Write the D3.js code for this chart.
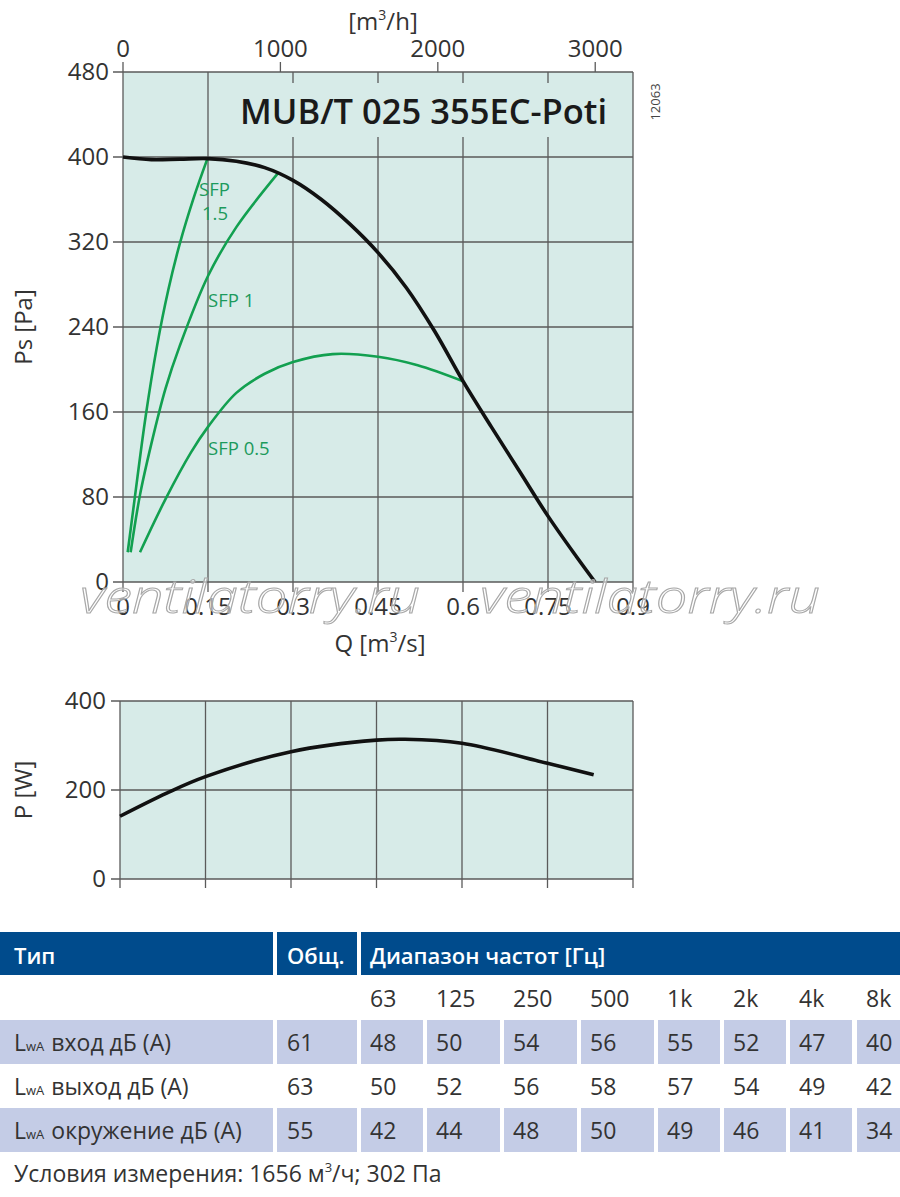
<!DOCTYPE html>
<html>
<head>
<meta charset="utf-8">
<script src="https://cdn.jsdelivr.net/npm/d3@7"></script>
<style>
body { margin: 0; background: #fff; }
svg { display: block; }
</style>
</head>
<body>
<script>
// chart data
var flowTicks = [0, 0.15, 0.3, 0.45, 0.6, 0.75, 0.9];
var flowTicksH = [0, 1000, 2000, 3000];
var pressureTicks = [0, 80, 160, 240, 320, 400, 480];
var powerTicks = [0, 200, 400];

var fanQ  = [0, 0.05, 0.1, 0.15, 0.2, 0.25, 0.3, 0.35, 0.4, 0.45, 0.5, 0.55, 0.6, 0.65, 0.7, 0.75, 0.8, 0.833];
var fanPa = [400, 397.5, 398, 398.5, 396, 390, 378, 360, 337, 310, 277, 236, 189, 146, 104, 62, 24, 0];

var sfp15Q  = [0.0083, 0.02, 0.04, 0.06, 0.08, 0.1, 0.125, 0.149];
var sfp15Pa = [28, 76, 156, 222, 275, 318, 362, 398.5];
var sfp1Q   = [0.0135, 0.03, 0.05, 0.075, 0.1, 0.15, 0.2, 0.274];
var sfp1Pa  = [28, 82, 130, 182, 222, 288, 334, 385];
var sfp05Q  = [0.03, 0.075, 0.12, 0.15, 0.2, 0.25, 0.3, 0.37, 0.45, 0.52, 0.6];
var sfp05Pa = [28, 78, 122, 146, 178, 196, 207, 214.5, 212, 204, 189];

var powerQ = [0, 0.082, 0.15, 0.3, 0.45, 0.5, 0.6, 0.75, 0.831];
var powerW = [141, 193, 230, 286, 312, 314, 305, 260, 234];

var bandLabels = ["63", "125", "250", "500", "1k", "2k", "4k", "8k"];
var rowNames = ["вход дБ (А)", "выход дБ (А)", "окружение дБ (А)"];
var rowTotals = [61, 63, 55];
var rowBands = [
	[48, 50, 54, 56, 55, 52, 47, 40],
	[50, 52, 56, 58, 57, 54, 49, 42],
	[42, 44, 48, 50, 49, 46, 41, 34]
];

var width = 900, height = 1197;
var font = "'Open Sans', 'Noto Sans', sans-serif";
var textColor = "#333";
var plotFill = "#d7ebe8";
var gridColor = "#5a5a5a";
var green = "#12a050";
var axisSize = 24;

var svg = d3.select("body").append("svg")
	.attr("width", width)
	.attr("height", height);

function zipped(xs, ys){
	return xs.map(function(x, i){ return [x, ys[i]]; });
}

// ---------- top chart ----------
var x = d3.scaleLinear().domain([0, 0.9]).range([123, 633]);
var y = d3.scaleLinear().domain([0, 480]).range([582, 72]);
// m3/h axis on top, same pixels
var xh = d3.scaleLinear().domain([0, 0.9 * 3600]).range([123, 633]);

svg.append("rect")
	.attr("x", x(0)).attr("y", y(480))
	.attr("width", x(0.9) - x(0)).attr("height", y(0) - y(480))
	.attr("fill", plotFill);

svg.append("g").selectAll("line")
	.data(flowTicks)
	.enter().append("line")
	.attr("x1", function(d){ return x(d); })
	.attr("x2", function(d){ return x(d); })
	.attr("y1", y(480)).attr("y2", y(0) + 10)
	.attr("stroke", gridColor).attr("stroke-width", 1.3);

svg.append("g").selectAll("line")
	.data(pressureTicks)
	.enter().append("line")
	.attr("x1", x(0) - 10).attr("x2", x(0.9))
	.attr("y1", function(d){ return y(d); })
	.attr("y2", function(d){ return y(d); })
	.attr("stroke", gridColor).attr("stroke-width", 1.3);

// title box hides the grid behind the name
svg.append("rect")
	.attr("x", 232).attr("y", 83)
	.attr("width", 388).attr("height", 54)
	.attr("fill", plotFill);

svg.append("text")
	.attr("x", 240).attr("y", 124)
	.attr("font-family", font)
	.attr("font-weight", 600)
	.attr("font-size", 34.5)
	.attr("fill", "#1a1a1a")
	.text("MUB/T 025 355EC-Poti");

svg.append("text")
	.attr("transform", "translate(660,102) rotate(-90)")
	.attr("text-anchor", "middle")
	.attr("font-family", font)
	.attr("font-size", 13)
	.attr("fill", "#444")
	.text("12063");

// top m3/h ticks
svg.append("g").selectAll("line")
	.data(flowTicksH)
	.enter().append("line")
	.attr("x1", function(d){ return xh(d); })
	.attr("x2", function(d){ return xh(d); })
	.attr("y1", y(480) - 10).attr("y2", y(480))
	.attr("stroke", gridColor).attr("stroke-width", 1.3);

svg.append("g").selectAll("text")
	.data(flowTicksH)
	.enter().append("text")
	.attr("x", function(d){ return xh(d); })
	.attr("y", 57)
	.attr("text-anchor", "middle")
	.attr("font-family", font)
	.attr("font-size", axisSize)
	.attr("fill", textColor)
	.text(function(d){ return d; });

svg.append("text")
	.attr("x", 383).attr("y", 30)
	.attr("text-anchor", "middle")
	.attr("font-family", font)
	.attr("font-size", axisSize)
	.attr("fill", textColor)
	.html("[m<tspan dy='-10' font-size='14'>3</tspan><tspan dy='10'>/h]</tspan>");

// left pressure labels
svg.append("g").selectAll("text")
	.data(pressureTicks)
	.enter().append("text")
	.attr("x", 109)
	.attr("y", function(d){ return y(d) + 8; })
	.attr("text-anchor", "end")
	.attr("font-family", font)
	.attr("font-size", axisSize)
	.attr("fill", textColor)
	.text(function(d){ return d; });

svg.append("text")
	.attr("transform", "translate(32," + y(240) + ") rotate(-90)")
	.attr("text-anchor", "middle")
	.attr("font-family", font)
	.attr("font-size", axisSize)
	.attr("fill", textColor)
	.text("Ps [Pa]");

// bottom flow labels
svg.append("g").selectAll("text")
	.data(flowTicks)
	.enter().append("text")
	.attr("x", function(d){ return x(d); })
	.attr("y", 615)
	.attr("text-anchor", "middle")
	.attr("font-family", font)
	.attr("font-size", axisSize)
	.attr("fill", textColor)
	.text(function(d){ return d; });

svg.append("text")
	.attr("x", 380).attr("y", 652)
	.attr("text-anchor", "middle")
	.attr("font-family", font)
	.attr("font-size", axisSize)
	.attr("fill", textColor)
	.html("Q [m<tspan dy='-10' font-size='14'>3</tspan><tspan dy='10'>/s]</tspan>");

// curves
var line = d3.line()
	.x(function(d){ return x(d[0]); })
	.y(function(d){ return y(d[1]); })
	.curve(d3.curveCatmullRom.alpha(0.5));

[[sfp15Q, sfp15Pa], [sfp1Q, sfp1Pa], [sfp05Q, sfp05Pa]].forEach(function(s){
	svg.append("path")
		.attr("d", line(zipped(s[0], s[1])))
		.attr("fill", "none")
		.attr("stroke", green)
		.attr("stroke-width", 2.6);
});

svg.append("path")
	.attr("d", line(zipped(fanQ, fanPa)))
	.attr("fill", "none")
	.attr("stroke", "#111")
	.attr("stroke-width", 3.6);

var sfpLabels = [
	{t: "SFP", x: 199, y: 196},
	{t: "1.5", x: 202, y: 220},
	{t: "SFP 1", x: 208, y: 307},
	{t: "SFP 0.5", x: 208, y: 455}
];
svg.append("g").selectAll("text")
	.data(sfpLabels)
	.enter().append("text")
	.attr("x", function(d){ return d.x; })
	.attr("y", function(d){ return d.y; })
	.attr("font-family", font)
	.attr("font-size", 18.5)
	.attr("fill", "#1c9a5c")
	.text(function(d){ return d.t; });

// watermark
[80, 480].forEach(function(wx){
	svg.append("text")
		.attr("x", wx).attr("y", 613)
		.attr("font-family", font)
		.attr("font-style", "italic")
		.attr("font-weight", 300)
		.attr("font-size", 46)
		.attr("textLength", 340)
		.attr("lengthAdjust", "spacingAndGlyphs")
		.attr("fill", "rgba(255,255,255,0.55)")
		.attr("stroke", "#a8a8a8")
		.attr("stroke-width", 1)
		.text("ventilatorry.ru");
});

// ---------- power chart ----------
var px = d3.scaleLinear().domain([0, 0.9]).range([120, 633]);
var py = d3.scaleLinear().domain([0, 400]).range([879, 701]);

svg.append("rect")
	.attr("x", px(0)).attr("y", py(400))
	.attr("width", px(0.9) - px(0)).attr("height", py(0) - py(400))
	.attr("fill", plotFill);

svg.append("g").selectAll("line")
	.data(flowTicks)
	.enter().append("line")
	.attr("x1", function(d){ return px(d); })
	.attr("x2", function(d){ return px(d); })
	.attr("y1", py(400)).attr("y2", py(0) + 9)
	.attr("stroke", gridColor).attr("stroke-width", 1.3);

svg.append("g").selectAll("line")
	.data(powerTicks)
	.enter().append("line")
	.attr("x1", px(0) - 9).attr("x2", px(0.9))
	.attr("y1", function(d){ return py(d); })
	.attr("y2", function(d){ return py(d); })
	.attr("stroke", gridColor).attr("stroke-width", 1.3);

svg.append("g").selectAll("text")
	.data(powerTicks)
	.enter().append("text")
	.attr("x", 106)
	.attr("y", function(d){ return py(d) + 8; })
	.attr("text-anchor", "end")
	.attr("font-family", font)
	.attr("font-size", axisSize)
	.attr("fill", textColor)
	.text(function(d){ return d; });

svg.append("text")
	.attr("transform", "translate(32," + py(200) + ") rotate(-90)")
	.attr("text-anchor", "middle")
	.attr("font-family", font)
	.attr("font-size", axisSize)
	.attr("fill", textColor)
	.text("P [W]");

var pline = d3.line()
	.x(function(d){ return px(d[0]); })
	.y(function(d){ return py(d[1]); })
	.curve(d3.curveCatmullRom.alpha(0.5));

svg.append("path")
	.attr("d", pline(zipped(powerQ, powerW)))
	.attr("fill", "none")
	.attr("stroke", "#111")
	.attr("stroke-width", 3.6);

// ---------- sound table ----------
var headBlue = "#004b8c";
var rowShade = "#c4cce6";
var colStart = [361, 427, 504, 581, 658, 724, 790, 857];
var colEnd   = [423, 500, 577, 654, 720, 786, 852, 900];
var rowTop = [1020, 1064, 1108];
var rowH = 44;
var cellSize = 23;

svg.append("rect").attr("x", 0).attr("y", 932).attr("width", 273).attr("height", 43).attr("fill", headBlue);
svg.append("rect").attr("x", 277).attr("y", 932).attr("width", 80).attr("height", 43).attr("fill", headBlue);
svg.append("rect").attr("x", 361).attr("y", 932).attr("width", 539).attr("height", 43).attr("fill", headBlue);

var headers = [{t: "Тип", x: 14}, {t: "Общ.", x: 287}, {t: "Диапазон частот [Гц]", x: 370}];
svg.append("g").selectAll("text")
	.data(headers)
	.enter().append("text")
	.attr("x", function(d){ return d.x; })
	.attr("y", 964)
	.attr("font-family", font)
	.attr("font-weight", 600)
	.attr("font-size", 22)
	.attr("fill", "#fff")
	.text(function(d){ return d.t; });

svg.append("g").selectAll("text")
	.data(bandLabels)
	.enter().append("text")
	.attr("x", function(d, i){ return colStart[i] + 9; })
	.attr("y", 1007)
	.attr("font-family", font)
	.attr("font-size", cellSize)
	.attr("fill", textColor)
	.text(function(d){ return d; });

rowNames.forEach(function(name, r){
	var top = rowTop[r];
	var g = svg.append("g");
	if (r !== 1) {
		g.append("rect").attr("x", 0).attr("y", top).attr("width", 273).attr("height", rowH).attr("fill", rowShade);
		g.append("rect").attr("x", 277).attr("y", top).attr("width", 80).attr("height", rowH).attr("fill", rowShade);
		g.selectAll("rect.band")
			.data(colStart)
			.enter().append("rect")
			.attr("class", "band")
			.attr("x", function(d){ return d; })
			.attr("y", top)
			.attr("width", function(d, i){ return colEnd[i] - d; })
			.attr("height", rowH)
			.attr("fill", rowShade);
	}
	var base = top + 31;
	g.append("text")
		.attr("x", 14).attr("y", base)
		.attr("font-family", font)
		.attr("font-size", cellSize)
		.attr("fill", textColor)
		.html("L<tspan font-size='13'>wA</tspan><tspan dx='7'>" + name + "</tspan>");
	g.append("text")
		.attr("x", 287).attr("y", base)
		.attr("font-family", font)
		.attr("font-size", cellSize)
		.attr("fill", textColor)
		.text(rowTotals[r]);
	g.selectAll("text.val")
		.data(rowBands[r])
		.enter().append("text")
		.attr("class", "val")
		.attr("x", function(d, i){ return colStart[i] + 9; })
		.attr("y", base)
		.attr("font-family", font)
		.attr("font-size", cellSize)
		.attr("fill", textColor)
		.text(function(d){ return d; });
});

svg.append("text")
	.attr("x", 14).attr("y", 1182)
	.attr("font-family", font)
	.attr("font-size", 23)
	.attr("fill", textColor)
	.html("Условия измерения: 1656 м<tspan dy='-10' font-size='13'>3</tspan><tspan dy='10'>/ч; 302 Па</tspan>");
</script>
</body>
</html>
